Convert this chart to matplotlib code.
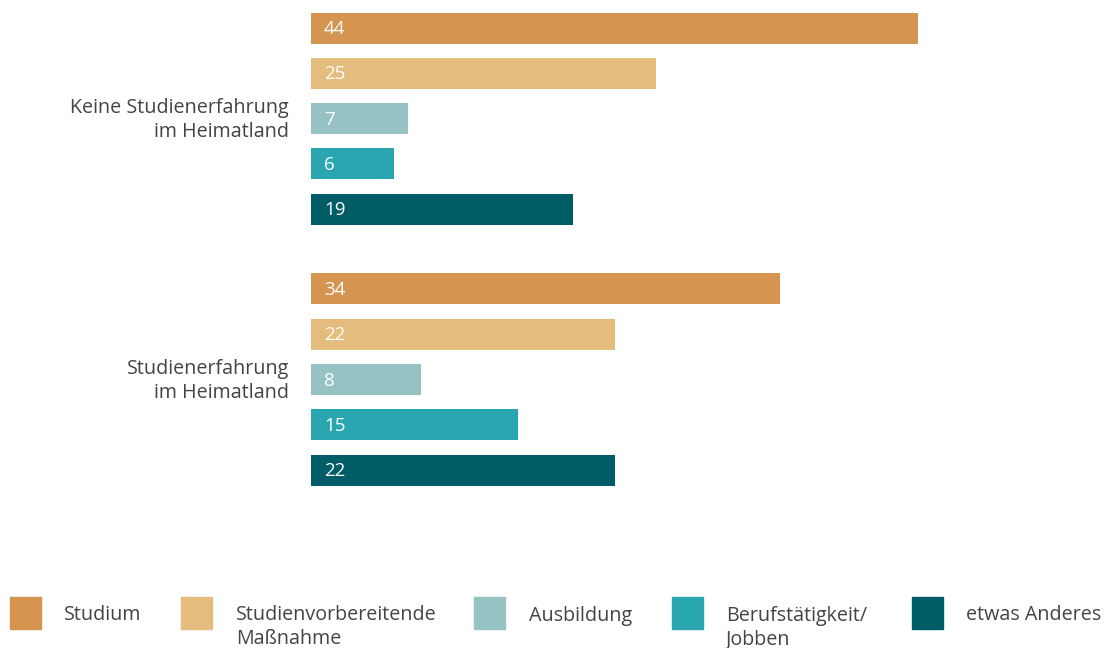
import matplotlib.pyplot as plt
from matplotlib.patches import Rectangle

plt.rcParams['font.family'] = ['Open Sans', 'DejaVu Sans']

# Daten
groups = ['Keine Studienerfahrung\nim Heimatland', 'Studienerfahrung\nim Heimatland']
categories = ['Studium', 'Studienvorbereitende\nMaßnahme', 'Ausbildung',
              'Berufstätigkeit/\nJobben', 'etwas Anderes']
values_keine = [44, 25, 7, 6, 19]
values_mit = [34, 22, 8, 15, 22]
colors = ['#D59550', '#E3BC7E', '#97C2C3', '#2AA6B1', '#005C66']

W, H = 1105, 648
fig = plt.figure(figsize=(W / 100, H / 100), dpi=100)

# Achse: x=0 bei Pixel 311, 13.8 px pro Einheit
px_unit = 13.8
slot = 45.3
ax_left, ax_right = 311, 1100
ax_top, ax_bot = 0, 500
ax = fig.add_axes([ax_left / W, 1 - ax_bot / H, (ax_right - ax_left) / W, (ax_bot - ax_top) / H])
ax.set_xlim(0, (ax_right - ax_left) / px_unit)
y0 = -28 / slot
ax.set_ylim(y0 + (ax_bot - ax_top) / slot, y0)
ax.axis('off')

group_offset = 261 / slot
text_color = '#444444'
for g, vals in enumerate([values_keine, values_mit]):
    base = g * group_offset
    for i, v in enumerate(vals):
        y = base + i
        ax.barh(y, v, height=31 / slot, color=colors[i], left=0)
        ax.text(13 / px_unit, y + 0.02, str(v), color='white', fontsize=13.5,
                va='center', ha='left')
    ax.text(-22 / px_unit, base + 2.04, groups[g], ha='right', va='center',
            fontsize=14.2, color=text_color, linespacing=1.26)

# Legende
sq_x = [10, 181, 474, 672, 912]
tx_x = [64, 236, 529, 726, 966]
for i, lab in enumerate(categories):
    fig.patches.append(Rectangle((sq_x[i] / W, 1 - 629 / H), 31 / W, 32 / H,
                                 transform=fig.transFigure, color=colors[i]))
    fig.text(tx_x[i] / W, 1 - 605.5 / H, lab, ha='left', va='top',
             fontsize=14.2, color=text_color, linespacing=1.26)

fig.savefig('out.png', dpi=100)
